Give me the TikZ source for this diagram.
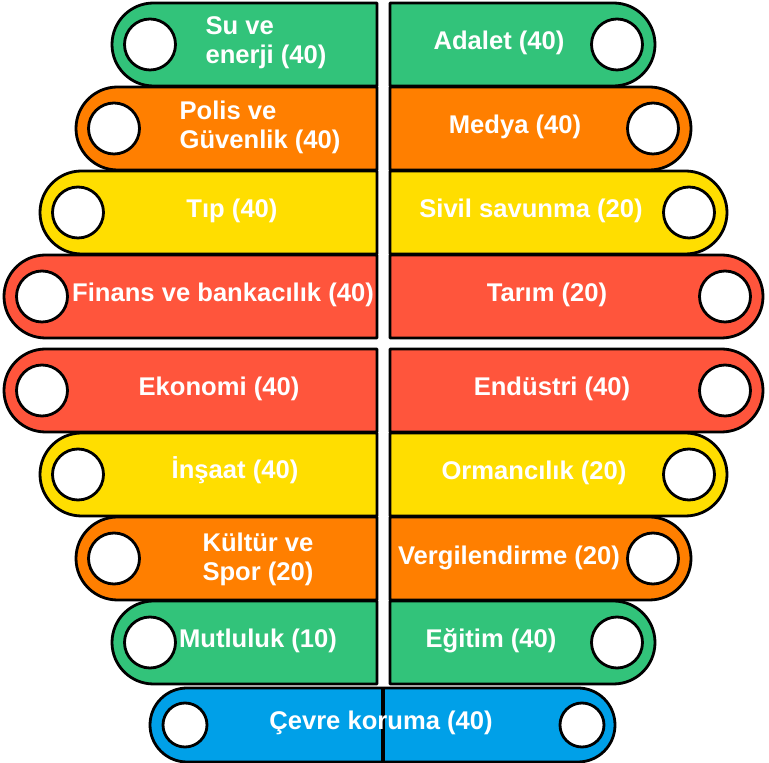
\documentclass[tikz,border=0pt]{standalone}
\usepackage{fontspec}
\setmainfont{Liberation Sans}
\definecolor{cgreen}{RGB}{50,195,122}
\definecolor{corange}{RGB}{255,127,0}
\definecolor{cyellow}{RGB}{255,222,0}
\definecolor{cred}{RGB}{255,85,60}
\definecolor{cblue}{RGB}{0,160,232}
\newcommand\LTab[4]{%
  \draw[tab,fill=#3] (377,#2+41.5) -- (#1+41.5,#2+41.5)
    arc[start angle=90,end angle=270,radius=41.5pt] -- (377,#2-41.5) -- cycle;
  \node[hole] (#4) at (#1+38,#2) {};}
\newcommand\RTab[4]{%
  \draw[tab,fill=#3] (390,#2+41.5) -- (#1-41.5,#2+41.5)
    arc[start angle=90,end angle=-90,radius=41.5pt] -- (390,#2-41.5) -- cycle;
  \node[hole] (#4) at (#1-38,#2) {};}
\begin{document}
\begin{tikzpicture}[x=1pt,y=1pt,
  tab/.style={draw=black,line width=2.8pt,line join=round},
  hole/.style={circle,draw=black,fill=white,line width=2.8pt,minimum size=51pt,inner sep=0pt},
  smallhole/.style={hole,minimum size=44pt},
  lbl/.style={text=white,font=\fontsize{25.6}{29}\selectfont\bfseries,align=left,inner sep=0pt}]
\useasboundingbox (0,0) rectangle (769,763);
% left column
\LTab{112}{718.5}{cgreen}{h1}
\LTab{76}{634.5}{corange}{h2}
\LTab{40}{550.5}{cyellow}{h3}
\LTab{4}{466.5}{cred}{h4}
\LTab{4}{372.5}{cred}{h5}
\LTab{40}{288.5}{cyellow}{h6}
\LTab{76}{204.5}{corange}{h7}
\LTab{112}{120.5}{cgreen}{h8}
% right column
\RTab{655}{718.5}{cgreen}{g1}
\RTab{691}{634.5}{corange}{g2}
\RTab{727}{550.5}{cyellow}{g3}
\RTab{763}{466.5}{cred}{g4}
\RTab{763}{372.5}{cred}{g5}
\RTab{727}{288.5}{cyellow}{g6}
\RTab{691}{204.5}{corange}{g7}
\RTab{655}{120.5}{cgreen}{g8}
% bottom bar
\draw[tab,fill=cblue] (187,75) -- (578,75)
  arc[start angle=90,end angle=-90,radius=37pt] -- (187,1)
  arc[start angle=270,end angle=90,radius=37pt] -- cycle;
\draw[line width=4pt] (383,75) -- (383,1);
\node[smallhole] (c1) at (185,38) {};
\node[smallhole] (c2) at (582,38) {};
% labels
\node[lbl] (t1) at (266,720) {Su ve\\enerji (40)};
\node[lbl] (s1) at (499,720) {Adalet (40)};
\node[lbl] (t2) at (260,636) {Polis ve\\Güvenlik (40)};
\node[lbl] (s2) at (515,636) {Medya (40)};
\node[lbl] (t3) at (232,552) {Tıp (40)};
\node[lbl] (s3) at (531,552) {Sivil savunma (20)};
\node[lbl] (t4) at (223,468) {Finans ve bankacılık (40)};
\node[lbl] (s4) at (547,468) {Tarım (20)};
\node[lbl] (t5) at (219,374) {Ekonomi (40)};
\node[lbl] (s5) at (552,374) {Endüstri (40)};
\node[lbl] (t6) at (235,293) {İnşaat (40)};
\node[lbl] (s6) at (534,290) {Ormancılık (20)};
\node[lbl] (t7) at (258,204) {Kültür ve\\Spor (20)};
\node[lbl] (s7) at (509,205) {Vergilendirme (20)};
\node[lbl] (t8) at (258,122) {Mutluluk (10)};
\node[lbl] (s8) at (491,122) {Eğitim (40)};
\node[lbl] (t9) at (381,40) {Çevre koruma (40)};
\end{tikzpicture}
\end{document}
